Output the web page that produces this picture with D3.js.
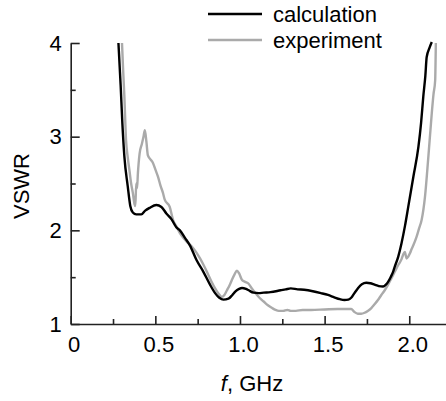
<!DOCTYPE html>
<html>
<head>
<meta charset="utf-8">
<script src="https://cdn.jsdelivr.net/npm/d3@7"></script>
<style>
  body { margin: 0; background: #fff; }
  svg { display: block; font-family: "Liberation Sans", Arial, sans-serif; }
</style>
</head>
<body>
<script>
// calculation curve: [f (GHz), VSWR]
const calculation = [
  [0.282, 4.0], [0.295, 3.55], [0.305, 3.15], [0.317, 2.79], [0.337, 2.47], [0.352, 2.26],
  [0.367, 2.19], [0.387, 2.17], [0.417, 2.17], [0.44, 2.21], [0.466, 2.24], [0.506, 2.27],
  [0.536, 2.25], [0.565, 2.18], [0.595, 2.12], [0.625, 2.03], [0.645, 2.0], [0.675, 1.92],
  [0.704, 1.84], [0.744, 1.68], [0.783, 1.56], [0.823, 1.42], [0.853, 1.33], [0.878, 1.28],
  [0.902, 1.26], [0.932, 1.27], [0.955, 1.31], [0.972, 1.345], [0.995, 1.375], [1.012, 1.385],
  [1.035, 1.375], [1.051, 1.36], [1.08, 1.335], [1.11, 1.33], [1.14, 1.335], [1.18, 1.34],
  [1.24, 1.36], [1.27, 1.37], [1.30, 1.38], [1.34, 1.37], [1.379, 1.365], [1.43, 1.35],
  [1.478, 1.33], [1.52, 1.31], [1.557, 1.285], [1.59, 1.265], [1.617, 1.256], [1.64, 1.26],
  [1.657, 1.28], [1.676, 1.33], [1.696, 1.38], [1.72, 1.425], [1.746, 1.44], [1.77, 1.435],
  [1.795, 1.42], [1.82, 1.405], [1.845, 1.40], [1.862, 1.42], [1.875, 1.45], [1.89, 1.50],
  [1.905, 1.56], [1.914, 1.61], [1.935, 1.72], [1.954, 1.86], [1.975, 2.05], [1.994, 2.25],
  [2.024, 2.57], [2.054, 2.89], [2.07, 3.15], [2.083, 3.43], [2.095, 3.65], [2.103, 3.85],
  [2.12, 3.95], [2.133, 4.01]
];

// experiment curve: [f (GHz), VSWR]
const experiment = [
  [0.303, 4.0], [0.31, 3.7], [0.317, 3.43], [0.327, 2.96], [0.337, 2.78], [0.347, 2.64],
  [0.357, 2.5], [0.367, 2.4], [0.377, 2.28], [0.382, 2.26], [0.387, 2.5], [0.392, 2.45],
  [0.397, 2.61], [0.407, 2.82], [0.42, 2.92], [0.43, 3.0], [0.438, 3.07], [0.447, 2.95],
  [0.456, 2.80], [0.47, 2.76], [0.486, 2.72], [0.50, 2.65], [0.516, 2.57], [0.53, 2.48],
  [0.545, 2.40], [0.555, 2.33], [0.585, 2.25], [0.605, 2.11], [0.625, 2.04], [0.645, 1.97],
  [0.665, 1.92], [0.685, 1.88], [0.714, 1.83], [0.74, 1.77], [0.764, 1.70], [0.785, 1.63],
  [0.804, 1.56], [0.83, 1.46], [0.853, 1.38], [0.875, 1.32], [0.893, 1.29], [0.908, 1.31],
  [0.923, 1.36], [0.94, 1.42], [0.952, 1.47], [0.968, 1.53], [0.982, 1.57], [0.995, 1.54],
  [1.012, 1.47], [1.03, 1.45], [1.051, 1.43], [1.07, 1.38], [1.091, 1.33], [1.115, 1.28],
  [1.14, 1.24], [1.165, 1.20], [1.19, 1.17], [1.21, 1.15], [1.23, 1.14], [1.255, 1.14],
  [1.28, 1.15], [1.30, 1.14], [1.33, 1.14], [1.37, 1.15], [1.42, 1.15], [1.5, 1.155],
  [1.577, 1.16], [1.62, 1.16], [1.657, 1.16], [1.675, 1.13], [1.696, 1.11], [1.716, 1.11],
  [1.736, 1.12], [1.755, 1.14], [1.776, 1.17], [1.795, 1.21], [1.815, 1.256], [1.835, 1.31],
  [1.855, 1.36], [1.875, 1.42], [1.895, 1.49], [1.915, 1.56], [1.935, 1.63], [1.954, 1.69],
  [1.964, 1.74], [1.974, 1.77], [1.984, 1.70], [1.994, 1.72], [2.004, 1.755], [2.014, 1.80],
  [2.024, 1.84], [2.043, 1.93], [2.058, 2.02], [2.073, 2.11], [2.093, 2.36], [2.113, 2.79],
  [2.133, 3.25], [2.143, 3.45], [2.153, 3.6], [2.157, 4.0]
];

const xTicks = [0, 0.5, 1.0, 1.5, 2.0];
const xTickLabels = ['0', '0.5', '1.0', '1.5', '2.0'];
const xMinorTicks = [0.25, 0.75, 1.25, 1.75];
const yTicks = [1, 2, 3, 4];
const yMinorTicks = [1.5, 2.5, 3.5];
const seriesNames = ['calculation', 'experiment'];
const seriesColors = ['#000000', '#aaaaaa'];

const width = 446, height = 401;
const fontSize = 22;

const svg = d3.select('body').append('svg')
  .attr('width', width)
  .attr('height', height);

const x = d3.scaleLinear().domain([0, 2.22]).range([70.7, 446.5]);
const y = d3.scaleLinear().domain([1, 4]).range([324, 43]);

const line = d3.line()
  .x(d => x(d[0]))
  .y(d => y(d[1]))
  .curve(d3.curveMonotoneX);

// curves (experiment under calculation)
[experiment, calculation].forEach((data, i) => {
  svg.append('path')
    .datum(data)
    .attr('fill', 'none')
    .attr('stroke', i === 0 ? seriesColors[1] : seriesColors[0])
    .attr('stroke-width', 2.4)
    .attr('stroke-linejoin', 'round')
    .attr('d', line);
});

// x axis, ticks pointing inward
const xAxis = svg.append('g')
  .attr('transform', `translate(0,${y(1)})`)
  .call(d3.axisBottom(x)
    .tickValues(xTicks)
    .tickFormat((d, i) => xTickLabels[i])
    .tickSizeInner(-8)
    .tickSizeOuter(0)
    .tickPadding(12));

svg.append('g')
  .attr('transform', `translate(0,${y(1)})`)
  .call(d3.axisBottom(x).tickValues(xMinorTicks).tickFormat('').tickSizeInner(-5).tickSizeOuter(0))
  .call(g => g.select('.domain').remove());

// y axis
const yAxis = svg.append('g')
  .attr('transform', `translate(${x(0)},0)`)
  .call(d3.axisLeft(y)
    .tickValues(yTicks)
    .tickFormat(d3.format('d'))
    .tickSizeInner(-9)
    .tickSizeOuter(0)
    .tickPadding(9));

svg.append('g')
  .attr('transform', `translate(${x(0)},0)`)
  .call(d3.axisLeft(y).tickValues(yMinorTicks).tickFormat('').tickSizeInner(-5).tickSizeOuter(0))
  .call(g => g.select('.domain').remove());

svg.selectAll('.domain, .tick line')
  .attr('stroke', '#222')
  .attr('stroke-width', 1.6);

svg.selectAll('.tick text')
  .attr('font-family', '"Liberation Sans", Arial, sans-serif')
  .attr('font-size', fontSize)
  .attr('fill', '#000');

xAxis.selectAll('.tick text').attr('dx', 3);

// axis titles
const xTitle = svg.append('text')
  .attr('x', 252)
  .attr('y', 391)
  .attr('text-anchor', 'middle')
  .attr('font-size', fontSize)
  .attr('fill', '#000');
xTitle.append('tspan').attr('font-style', 'italic').text('f');
xTitle.append('tspan').text(', GHz');

svg.append('text')
  .attr('transform', 'translate(29,186) rotate(-90)')
  .attr('text-anchor', 'middle')
  .attr('font-size', fontSize)
  .attr('fill', '#000')
  .text('VSWR');

// legend
const legend = svg.append('g');
seriesNames.forEach((name, i) => {
  const ly = 14 + i * 26;
  legend.append('line')
    .attr('x1', 208).attr('x2', 262)
    .attr('y1', ly).attr('y2', ly)
    .attr('stroke', seriesColors[i])
    .attr('stroke-width', 2.4);
  legend.append('text')
    .attr('x', 273)
    .attr('y', ly + 7.5)
    .attr('font-size', fontSize)
    .attr('fill', '#000')
    .text(name);
});
</script>
</body>
</html>
